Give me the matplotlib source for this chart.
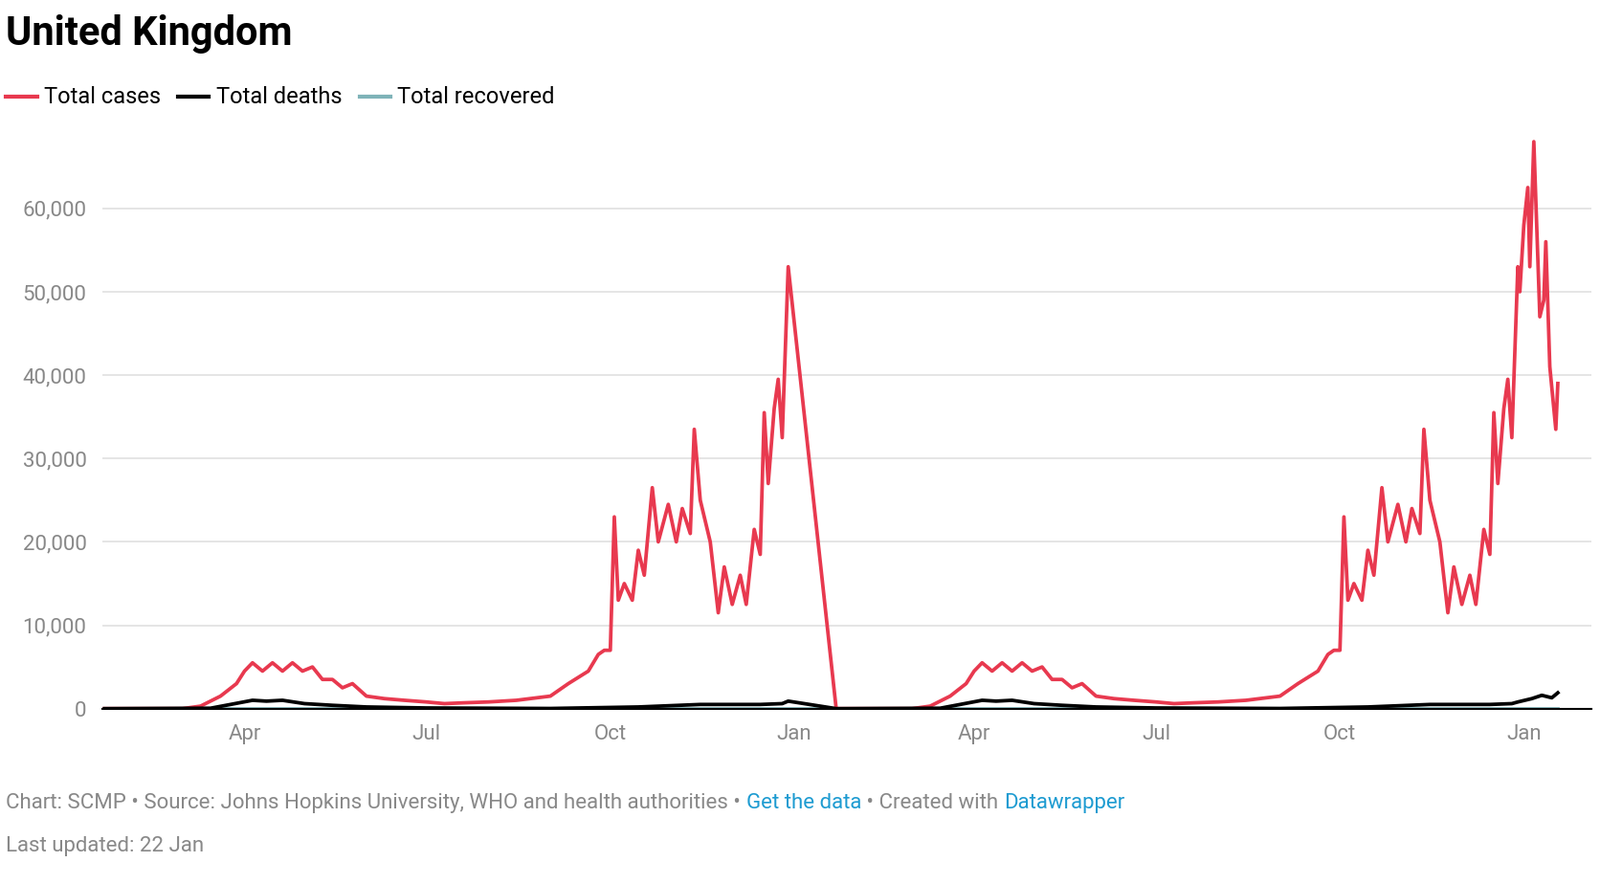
import datetime as dt
import matplotlib
matplotlib.use("Agg")
import matplotlib.pyplot as plt
import matplotlib.dates as mdates
from matplotlib.ticker import FuncFormatter

D = dt.date

# cases over the first year (Jan 2020 - Dec 2020)
case_dates = [D(2020,1,22), D(2020,3,1), D(2020,3,10), D(2020,3,20), D(2020,3,28), D(2020,4,1),
              D(2020,4,5), D(2020,4,10), D(2020,4,15), D(2020,4,20), D(2020,4,25), D(2020,4,30),
              D(2020,5,5), D(2020,5,10), D(2020,5,15), D(2020,5,20), D(2020,5,25), D(2020,6,1),
              D(2020,6,10), D(2020,6,20), D(2020,7,1), D(2020,7,10), D(2020,7,20), D(2020,8,1),
              D(2020,8,15), D(2020,9,1), D(2020,9,10), D(2020,9,20), D(2020,9,25), D(2020,9,28),
              D(2020,10,1), D(2020,10,3), D(2020,10,5), D(2020,10,8), D(2020,10,12), D(2020,10,15),
              D(2020,10,18), D(2020,10,22), D(2020,10,25), D(2020,10,30), D(2020,11,3), D(2020,11,6),
              D(2020,11,10), D(2020,11,12), D(2020,11,15), D(2020,11,20), D(2020,11,24), D(2020,11,27),
              D(2020,12,1), D(2020,12,5), D(2020,12,8), D(2020,12,12), D(2020,12,15), D(2020,12,17),
              D(2020,12,19), D(2020,12,22), D(2020,12,24), D(2020,12,26)]
case_vals = [0, 0, 300, 1500, 3000, 4500,
             5500, 4500, 5500, 4500, 5500, 4500,
             5000, 3500, 3500, 2500, 3000, 1500,
             1200, 1000, 800, 600, 700, 800,
             1000, 1500, 3000, 4500, 6500, 7000,
             7000, 23000, 13000, 15000, 13000, 19000,
             16000, 26500, 20000, 24500, 20000, 24000,
             21000, 33500, 25000, 20000, 11500, 17000,
             12500, 16000, 12500, 21500, 18500, 35500,
             27000, 36000, 39500, 32500]
first_end_dates = [D(2020,12,29), D(2021,1,22)]
first_end_vals = [53000, 0]
second_end_dates = [D(2021,12,29), D(2021,12,30), D(2022,1,1), D(2022,1,3), D(2022,1,4), D(2022,1,6),
                    D(2022,1,9), D(2022,1,11), D(2022,1,12), D(2022,1,14), D(2022,1,17), D(2022,1,18)]
second_end_vals = [53000, 50000, 58000, 62500, 53000, 68000, 47000, 49000, 56000, 41000, 33500, 39000]

death_dates = [D(2020,1,22), D(2020,3,15), D(2020,3,25), D(2020,4,5), D(2020,4,12), D(2020,4,20),
               D(2020,5,1), D(2020,5,15), D(2020,6,1), D(2020,7,1), D(2020,9,1), D(2020,10,15),
               D(2020,11,15), D(2020,12,15), D(2020,12,26)]
death_vals = [0, 50, 500, 1000, 900, 1000, 600, 400, 200, 80, 20, 200, 500, 500, 600]
first_death_end = [900, 0]
second_death_end_dates = [D(2021,12,29), D(2022,1,5), D(2022,1,10), D(2022,1,15), D(2022,1,18)]
second_death_end = [800, 1200, 1600, 1300, 1900]

rec_dates = [D(2020,1,22), D(2021,1,22), D(2022,1,18)]
rec_vals = [0, 0, 0]


def shift(ds):
    return [d.replace(year=d.year + 1) for d in ds]


cases_x = case_dates + first_end_dates + shift(case_dates) + second_end_dates
cases_y = case_vals + first_end_vals + case_vals + second_end_vals
deaths_x = death_dates + first_end_dates + shift(death_dates) + second_death_end_dates
deaths_y = death_vals + first_death_end + death_vals + second_death_end

W, H = 1560, 862  # reference coordinates measured on a scaled view
fig = plt.figure(figsize=(16.72, 9.24), dpi=100)
ax = fig.add_axes([100/W, 1 - 691/H, 1452/W, (691 - 130)/H])
ax.plot(rec_dates, rec_vals, color="#7fb3b8", lw=2.7)
ax.plot(cases_x, cases_y, color="#e8394f", lw=2.7)
ax.plot(deaths_x, deaths_y, color="black", lw=2.7)

ax.set_xlim(D(2020,1,21), D(2022,2,4))
ax.set_ylim(0, 69000)
ax.set_yticks([0, 10000, 20000, 30000, 40000, 50000, 60000])
ax.yaxis.set_major_formatter(FuncFormatter(lambda v, p: f"{int(v):,}"))
ax.set_xticks([D(2020,4,1), D(2020,7,1), D(2020,10,1), D(2021,1,1),
               D(2021,4,1), D(2021,7,1), D(2021,10,1), D(2022,1,1)])
ax.xaxis.set_major_formatter(mdates.DateFormatter("%b"))
ax.grid(axis="y", color="#e0e0e0", lw=1.2)
ax.set_axisbelow(True)
for s in ["top", "right", "left"]:
    ax.spines[s].set_visible(False)
ax.spines["bottom"].set_color("black")
ax.spines["bottom"].set_linewidth(1.5)
ax.tick_params(axis="both", length=0, labelsize=16, labelcolor="#888888", pad=12, labelfontfamily="Roboto")

fig.text(6/W, 1 - 33/H, "United Kingdom", fontsize=30, fontweight="bold", va="center", family="Roboto")
fig.canvas.draw()
r = fig.canvas.get_renderer()
px = 1672 / W
lx = 6 * px
for label, col in [("Total cases", "#e8394f"), ("Total deaths", "black"), ("Total recovered", "#7fb3b8")]:
    fig.add_artist(plt.Line2D([lx/1672, (lx + 30*px)/1672], [1 - 94/H] * 2, color=col, lw=3))
    t = fig.text((lx + 37*px)/1672, 1 - 95/H, label, fontsize=17, va="center", family="Roboto")
    lx += 37*px + t.get_window_extent(r).width + 17*px

fx = 6 * px
for txt, col in [("Chart: SCMP • Source: Johns Hopkins University, WHO and health authorities • ", "#888888"),
                 ("Get the data", "#1d9bd1"), (" • Created with ", "#888888"), ("Datawrapper", "#1d9bd1")]:
    t = fig.text(fx/1672, 1 - 783/H, txt, fontsize=16, color=col, va="center", family="Roboto")
    fx += t.get_window_extent(r).width
fig.text(6/W, 1 - 825/H, "Last updated: 22 Jan", fontsize=16, color="#888888", va="center", family="Roboto")

fig.savefig("out.png", dpi=100)
